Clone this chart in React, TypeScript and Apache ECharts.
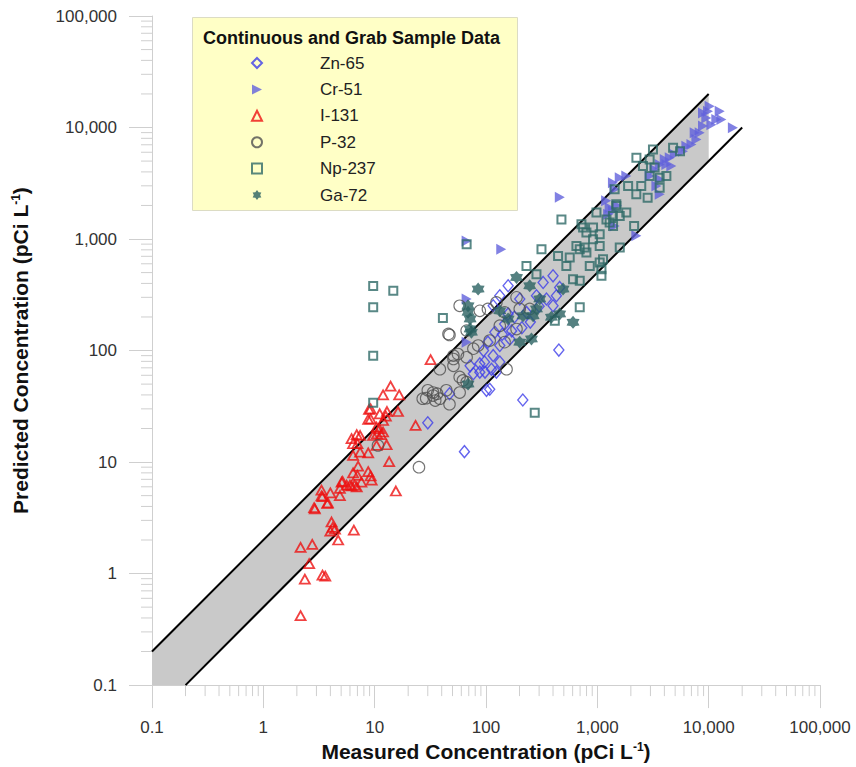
import React, { useEffect, useRef } from 'react';
import * as echarts from 'echarts';

const FONT = '"Liberation Sans", Arial, sans-serif';

const seriesNames = ['Zn-65', 'Cr-51', 'I-131', 'P-32', 'Np-237', 'Ga-72'];

const zn65: number[][] = [
  [30, 22.5], [64, 12.4], [214, 36], [451, 101], [101, 44], [47, 41], [72, 73], [77, 62],
  [98, 64], [112, 68], [88, 76], [133, 79], [133, 310], [158, 381], [326, 408], [284, 310],
  [201, 290], [116, 252], [231, 220], [349, 290], [400, 252], [429, 310], [147, 173],
  [120, 146], [164, 127], [133, 111], [116, 90], [97, 79], [124, 64], [88, 64], [108, 45],
  [104, 119], [400, 468], [459, 368], [158, 213], [180, 200], [250, 180], [140, 140],
  [95, 100], [170, 150], [210, 160], [300, 250],
];

const cr51: number[][] = [
  [10200, 15500], [12560, 14000], [8890, 13500], [9530, 12200], [11720, 11800], [10570, 10600],
  [13000, 11800], [16500, 9940], [8890, 10300], [7490, 8970], [7760, 7810], [7000, 7040],
  [6310, 6800], [5880, 6140], [4950, 5740], [4470, 5350], [4030, 5170], [4170, 4670],
  [4620, 4510], [3630, 4670], [3270, 4210], [3630, 3430], [3390, 2990], [2950, 3670],
  [1820, 3670], [1590, 3550], [1380, 3200], [1430, 2790], [1290, 1910], [1380, 1780],
  [1250, 1670], [2240, 1070], [3630, 2520], [8300, 8970], [9860, 14000], [1430, 1310],
  [1200, 2200], [1500, 2000], [67, 960], [137, 811], [460, 2370], [67, 290], [67, 119],
];

const i131: number[][] = [
  [2.16, 0.42], [2.36, 0.89], [3.4, 0.97], [3.6, 0.95], [2.58, 1.23], [2.16, 1.72], [2.75, 1.83],
  [4.7, 2.0], [6.5, 2.45], [4.1, 2.9], [4.2, 2.6], [4.0, 2.4], [4.4, 2.5], [2.86, 3.9],
  [3.75, 4.25], [3.33, 4.97], [4.0, 5.3], [3.33, 5.6], [4.87, 5.0], [5.05, 6.6], [6.0, 6.2],
  [6.9, 6.0], [7.6, 6.6], [9.4, 6.9], [15.5, 5.5], [31.8, 83], [13.9, 48], [11.9, 40],
  [16.6, 40], [8.9, 29.6], [8.75, 24.1], [9.2, 24.4], [11.1, 27.1], [12.6, 25.8], [11.9, 23.6],
  [12.9, 28.4], [16.2, 28.4], [10.4, 20.6], [11.0, 19.9], [11.9, 18.6], [9.7, 17.3],
  [10.5, 17.9], [11.4, 17.6], [6.2, 16.2], [6.9, 17.6], [7.4, 17.3], [6.4, 14.6], [7.0, 14.6],
  [7.4, 12.3], [6.4, 11.5], [8.75, 12.1], [10.4, 14.1], [12.8, 14.3], [13.5, 10.1], [7.1, 9.2],
  [6.4, 8.0], [7.0, 7.6], [8.75, 8.2], [9.2, 7.5], [5.15, 6.7], [5.6, 6.2], [6.6, 6.2],
  [6.2, 6.1], [4.87, 5.8], [3.4, 4.9], [3.8, 4.3], [2.9, 3.8], [23.3, 21.3], [9.2, 30],
];

const p32: number[][] = [
  [58, 252], [46, 141], [67, 151], [88, 227], [104, 236], [124, 270], [147, 220], [188, 300],
  [201, 236], [133, 167], [188, 156], [85, 111], [108, 123], [147, 119], [51, 90], [67, 87],
  [38.5, 68], [51, 73], [153, 68], [62, 54], [44, 44], [33.5, 42], [58, 42], [247, 236],
  [25, 9], [10.7, 14.1], [27, 37], [30, 44], [33.5, 39.5], [36.4, 41], [38.5, 37], [47, 33],
  [35, 35.6], [29, 37.4], [47, 138], [51, 84], [56, 93], [58, 58], [67, 52], [77, 104],
];

const np237: number[][] = [
  [9.7, 380], [14.7, 343], [9.7, 244], [41, 196], [9.7, 90], [9.7, 34], [274, 27.7], [476, 1500],
  [67, 899], [315, 811], [444, 706], [565, 684], [745, 1268], [982, 1727], [915, 995], [695, 811],
  [798, 757], [649, 867], [1050, 867], [527, 574], [605, 437], [695, 422], [855, 574],
  [1089, 468], [695, 244], [415, 185], [284, 484], [231, 574], [1384, 1310], [1208, 1500],
  [1483, 1977], [1050, 617], [2244, 5350], [3160, 6350], [4790, 6580], [5530, 6140],
  [2950, 5170], [2570, 4510], [3270, 4370], [2950, 3670], [3630, 3550], [4170, 3670],
  [1890, 2990], [2480, 2990], [2240, 2520], [2830, 2350], [3630, 2890], [1430, 2790],
  [1480, 2050], [1380, 1610], [1590, 1610], [1820, 1727], [1290, 1406], [2140, 1310],
  [720, 1356], [915, 1268], [798, 1143], [1050, 1104], [1125, 659], [1590, 839], [1089, 537],
  [771, 839],
];

const ga72: number[][] = [
  [85, 356], [188, 453], [247, 381], [69, 252], [69, 220], [72, 192], [72, 156], [74, 146],
  [158, 192], [215, 205], [265, 205], [284, 236], [304, 290], [201, 119], [256, 127],
  [387, 199], [459, 213], [605, 179], [133, 227], [492, 356], [69, 50],
];

// 2:1 agreement band
const upperLine: number[][] = [[0.1, 0.2], [10000, 20000]];
const lowerLine: number[][] = [[0.2, 0.1], [20000, 10000]];
const bandPolygon: number[][] = [[0.1, 0.1], [0.1, 0.2], [10000, 20000], [10000, 5000], [0.2, 0.1]];

// axis ticks
const decades = [0.1, 1, 10, 100, 1000, 10000];
const minorSteps = [2, 3, 4, 5, 6, 7, 8, 9];
const minorTicks = decades.flatMap((d) => minorSteps.map((m) => Number((d * m).toPrecision(3))));

const AXIS_GRAY = '#cfcfcf';

const STAR = 'path://M0,-10 L3.3,-5.6 L8.66,-5 L6.4,0 L8.66,5 L3.3,5.6 L0,10 L-3.3,5.6 L-8.66,5 L-6.4,0 L-8.66,-5 L-3.3,-5.6 Z';
const RIGHT_TRI = 'path://M0,0 L10,5 L0,10 Z';

function fmt(v: number) {
  const n = Number(v.toPrecision(6));
  return n >= 1 ? n.toLocaleString('en-US') : String(n);
}

export default function App() {
  const ref = useRef<HTMLDivElement>(null);
  useEffect(() => {
    if (!ref.current) return;
    const chart = echarts.init(ref.current, undefined, { renderer: 'svg' });
    const clear = 'rgba(255,255,255,0)';
    const scatterBase = { type: 'scatter', z: 5 } as any;
    const option: any = {
      animation: false,
      backgroundColor: '#ffffff',
      textStyle: { fontFamily: FONT },
      grid: { left: 152, right: 36, top: 16, bottom: 80 },
      xAxis: {
        type: 'log', logBase: 10, min: 0.1, max: 100000, splitNumber: 6,
        name: 'Measured Concentration (pCi L{sup|-1})',
        nameLocation: 'middle', nameGap: 53,
        nameTextStyle: {
          fontSize: 21, fontWeight: 'bold', color: '#111', fontFamily: FONT,
          rich: { sup: { fontSize: 12, fontWeight: 'bold', color: '#111', verticalAlign: 'top', fontFamily: FONT } },
        },
        axisLine: { lineStyle: { color: AXIS_GRAY, width: 1 } },
        axisTick: { show: true, length: 23, lineStyle: { color: AXIS_GRAY } },
        splitLine: { show: false },
        axisLabel: { formatter: fmt, fontSize: 17, color: '#333', margin: 34, fontFamily: FONT },
      },
      yAxis: {
        type: 'log', logBase: 10, min: 0.1, max: 100000, splitNumber: 6,
        name: 'Predicted Concentration (pCi L{sup|-1})',
        nameLocation: 'middle', nameGap: 121,
        nameTextStyle: {
          fontSize: 21, fontWeight: 'bold', color: '#111', fontFamily: FONT,
          rich: { sup: { fontSize: 12, fontWeight: 'bold', color: '#111', verticalAlign: 'top', fontFamily: FONT } },
        },
        axisLine: { lineStyle: { color: AXIS_GRAY, width: 1 } },
        axisTick: { show: true, length: 23, lineStyle: { color: AXIS_GRAY } },
        splitLine: { show: false },
        axisLabel: { formatter: fmt, fontSize: 17, color: '#333', margin: 35, fontFamily: FONT },
      },
      legend: {
        data: seriesNames, orient: 'vertical', left: 246, top: 49.5,
        itemWidth: 10, itemHeight: 10, itemGap: 9.4, selectedMode: false, z: 10,
        textStyle: { fontSize: 17, color: '#222', fontFamily: FONT, padding: [0, 0, 0, 53], lineHeight: 11 },
      },
      graphic: [
        {
          type: 'rect', left: 192, top: 17, z: 8,
          shape: { width: 325, height: 193 },
          style: { fill: '#ffffc6', stroke: '#dcdcc4', lineWidth: 1 },
        },
        {
          type: 'text', left: 203, top: 29, z: 9,
          style: { text: 'Continuous and Grab Sample Data', fontSize: 18, fontWeight: 'bold', fill: '#111', fontFamily: FONT },
        },
      ],
      series: [
        {
          type: 'custom', silent: true, z: 1, clip: true,
          data: [bandPolygon[0]],
          renderItem: (_p: any, api: any) => ({
            type: 'polygon',
            shape: { points: bandPolygon.map((pt) => api.coord(pt)) },
            style: { fill: '#c9c9c9' },
          }),
        },
        {
          type: 'line', data: upperLine, symbol: 'none', z: 3, silent: true,
          lineStyle: { color: '#000', width: 2 },
        },
        {
          type: 'line', data: lowerLine, symbol: 'none', z: 3, silent: true,
          lineStyle: { color: '#000', width: 2 },
        },
        {
          type: 'custom', silent: true, clip: false, z: 2,
          data: minorTicks.map((v) => [v, 0.1]),
          renderItem: (_p: any, api: any) => {
            const pt = api.coord([api.value(0), 0.1]);
            return { type: 'line', shape: { x1: pt[0], y1: pt[1], x2: pt[0], y2: pt[1] + 11 }, style: { stroke: AXIS_GRAY, lineWidth: 1 } };
          },
        },
        {
          type: 'custom', silent: true, clip: false, z: 2,
          data: minorTicks.map((v) => [0.1, v]),
          renderItem: (_p: any, api: any) => {
            const pt = api.coord([0.1, api.value(1)]);
            return { type: 'line', shape: { x1: pt[0] - 11, y1: pt[1], x2: pt[0], y2: pt[1] }, style: { stroke: AXIS_GRAY, lineWidth: 1 } };
          },
        },
        {
          ...scatterBase, name: 'Zn-65', data: zn65, symbol: 'diamond', symbolSize: [10, 12],
          itemStyle: { color: clear, borderColor: '#3d3dea', borderWidth: 1.4 },
        },
        {
          ...scatterBase, name: 'Cr-51', data: cr51, symbol: RIGHT_TRI, symbolSize: [10, 11],
          itemStyle: { color: '#6262dc' },
        },
        {
          ...scatterBase, name: 'I-131', data: i131, symbol: 'triangle', symbolSize: [10, 9],
          itemStyle: { color: clear, borderColor: '#ee1111', borderWidth: 1.8 },
        },
        {
          ...scatterBase, name: 'P-32', data: p32, symbol: 'circle', symbolSize: 11.5,
          itemStyle: { color: clear, borderColor: '#505050', borderWidth: 1.1 },
        },
        {
          ...scatterBase, name: 'Np-237', data: np237, symbol: 'rect', symbolSize: 8,
          itemStyle: { color: clear, borderColor: '#2f6a68', borderWidth: 2 },
        },
        {
          ...scatterBase, name: 'Ga-72', data: ga72, symbol: STAR, symbolSize: 13,
          itemStyle: { color: '#2a6262' },
        },
      ],
    };
    chart.setOption(option);
    return () => chart.dispose();
  }, []);
  return <div ref={ref} style={{ position: 'absolute', left: 0, top: 0, width: 856, height: 767 }} />;
}
